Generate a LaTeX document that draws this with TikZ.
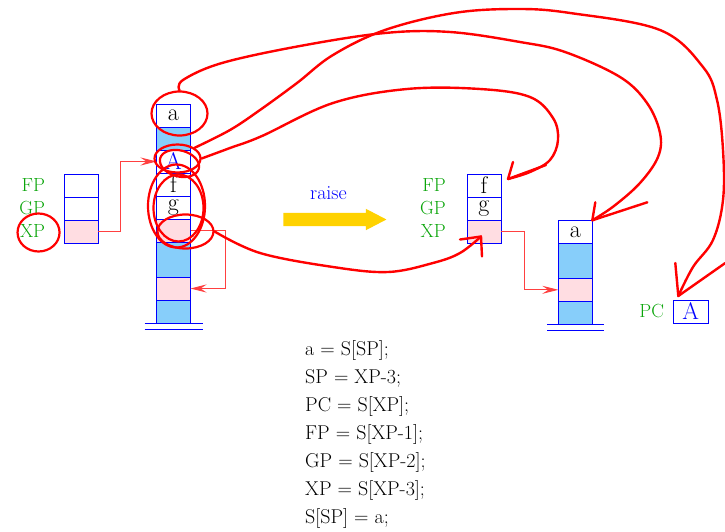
\documentclass[tikz,border=0pt]{standalone}
\usepackage{fontspec}
\usepackage{tikz}
\usetikzlibrary{shapes,arrows.meta,positioning,calc}

\definecolor{stackblue}{RGB}{135,206,250}
\definecolor{cellpink}{RGB}{255,221,226}
\definecolor{labelgreen}{RGB}{10,165,10}
\definecolor{raiseyellow}{RGB}{255,210,0}

\begin{document}
\begin{tikzpicture}[
  x=1pt, y=-1pt,
  cell/.style={rectangle, draw=blue, line width=0.9pt, minimum width=34pt, minimum height=23pt,
    inner sep=0pt, outer sep=0pt, font=\fontsize{24}{24}\selectfont},
  bluecell/.style={cell, fill=stackblue},
  pinkcell/.style={cell, fill=cellpink},
  reg/.style={font=\fontsize{19}{19}\selectfont, text=labelgreen, inner sep=0pt},
  ground/.style={draw=blue, line width=0.9pt},
  link/.style={draw=red!75, line width=0.9pt, -{Stealth[length=16pt,width=8pt,inset=6pt]}},
  ring/.style={draw=red, line width=2.2pt, ellipse, inner sep=0pt},
  scribble/.style={draw=red, line width=2.4pt, line cap=round, line join=round},
  codeline/.style={anchor=base west, font=\fontsize{20}{20}\selectfont, inner sep=0pt}
]
  \useasboundingbox (0,0) rectangle (725,532);

  % Registers before
  \node[cell] (FP0) at (81.3,185.5) {};
  \node[cell, below=0pt of FP0] (GP0) {};
  \node[pinkcell, below=0pt of GP0] (XP0) {};
  \node[reg, left=19pt of FP0] (FP0l) {FP};
  \node[reg, left=19pt of GP0] (GP0l) {GP};
  \node[reg, left=19pt of XP0] (XP0l) {XP};

  % Stack before
  \node[cell] (s0) at (173.5,115.5) {a};
  \node[bluecell, below=0pt of s0] (s1) {};
  \node[cell, text=blue, below=0pt of s1] (s2) {A};
  \node[cell, below=0pt of s2] (s3) {f};
  \node[cell, below=0pt of s3] (s4) {g};
  \node[pinkcell, below=0pt of s4] (s5) {};
  \node[bluecell, minimum height=35pt, below=0pt of s5] (s6) {};
  \node[pinkcell, below=0pt of s6] (s7) {};
  \node[bluecell, below=0pt of s7] (s8) {};
  \draw[ground] ([xshift=-12pt]s8.south west) -- ([xshift=12pt]s8.south east);
  \draw[ground] ([xshift=-12pt,yshift=-6pt]s8.south west) -- ([xshift=12pt,yshift=-6pt]s8.south east);

  % Links before
  \draw[link] (XP0.east) -- ++(22,0) |- (s2.west);
  \draw[link] (s5.east) -- ++(34.5,0) |- (s7.east);

  % raise
  \node[single arrow, fill=raiseyellow, minimum height=103pt, inner sep=6.5pt,
    single arrow head extend=4pt, single arrow tip angle=55] (raise) at (328.5,219.5) {};
  \node[font=\fontsize{20}{20}\selectfont, text=blue, above=9pt of raise] (raisel) {raise};

  % Registers after
  \node[cell] (FP1) at (484,185.5) {f};
  \node[cell, below=0pt of FP1] (GP1) {g};
  \node[pinkcell, below=0pt of GP1] (XP1) {};
  \node[reg, left=21pt of FP1] (FP1l) {FP};
  \node[reg, left=21pt of GP1] (GP1l) {GP};
  \node[reg, left=21pt of XP1] (XP1l) {XP};

  % Stack after
  \node[cell] (t0) at (575.3,231.8) {a};
  \node[bluecell, minimum height=35pt, below=0pt of t0] (t1) {};
  \node[pinkcell, below=0pt of t1] (t2) {};
  \node[bluecell, below=0pt of t2] (t3) {};
  \draw[ground] ([xshift=-11pt]t3.south west) -- ([xshift=12pt]t3.south east);
  \draw[ground] ([xshift=-11pt,yshift=-6pt]t3.south west) -- ([xshift=12pt,yshift=-6pt]t3.south east);
  \draw[link] (XP1.east) -- ++(23,0) |- (t2.west);

  \node[cell, minimum width=35pt, text=blue] (PC1) at (690.8,311.5) {A};
  \node[reg, left=9pt of PC1] (PC1l) {PC};

  % Code
  \foreach \stmt [count=\i] in {{a = S[SP];}, {SP = XP-3;}, {PC = S[XP];}, {FP = S[XP-1];},
      {GP = S[XP-2];}, {XP = S[XP-3];}, {S[SP] = a;}}
    \node[codeline] (code\i) at (305,{327+28*\i}) {\stmt};

  % Hand-drawn marks
  \node[ring, minimum width=56pt, minimum height=44pt] (ring0a) at ([xshift=6pt,yshift=2pt]s0) {};
  \node[ring, minimum width=46pt, minimum height=28pt] (ring0A) at ([xshift=4pt,yshift=3pt]s2) {};
  \node[ring, minimum width=40pt, minimum height=26pt, rotate=-15] (ring0A2) at ([xshift=6pt,yshift=-2pt]s2) {};
  \node[ring, minimum width=57pt, minimum height=83pt] (ring0fg) at ([xshift=3pt,yshift=-10pt]s3.south) {};
  \node[ring, minimum width=50pt, minimum height=67pt] (ring0fg2) at ([xshift=5pt,yshift=-12pt]s3.south) {};
  \node[ring, minimum width=56pt, minimum height=34pt] (ring0p) at ([xshift=12pt,yshift=-1pt]s5) {};
  \node[ring, minimum width=42pt, minimum height=38pt] (ringxp) at ([xshift=6pt,yshift=-1pt]XP0l) {};

  \coordinate (tipPC) at ([xshift=5pt,yshift=4pt]PC1.north west);
  \coordinate (tipFP) at ([xshift=7pt,yshift=-5pt]FP1.north east);
  \coordinate (tipXP) at ([xshift=-3pt,yshift=-5pt]XP1.center);

  \draw[scribble] plot[smooth, tension=0.6] coordinates {(ring0a.north) (183,80) (222,63) (300,46)
    (385,33) (450,32) (520,42) (565,52) (620,77) (647,103) (660,133) (658,157) (640,183) (614,206) (t0.north east)};
  \draw[scribble] (t0.north east) ++(3,-18) -- (t0.north east) -- ++(55,-18);

  \draw[scribble] plot[smooth, tension=0.6] coordinates {(ring0A.north east) (230,130) (260,110) (297,83)
    (333,55) (385,30) (454,13) (517,9) (570,13) (660,30) (703,67) (717,100) (723,150) (723,200)
    (713,240) (693,267) (tipPC)};
  \draw[scribble] (tipPC) ++(-3,-33) -- (tipPC) -- ++(47,-33);

  \draw[scribble] plot[smooth, tension=0.6] coordinates {(ring0A.east) (230,148) (262,136) (333,103)
    (407,89) (480,89) (530,97) (553,118) (558,140) (550,160) (530,172) (tipFP)};
  \draw[scribble] (tipFP) ++(5,-17) -- (tipFP) -- ++(38,-14);

  \draw[scribble] plot[smooth, tension=0.6] coordinates {(ring0p.east) (260,253) (333,267) (388,272)
    (433,263) (460,253) (tipXP)};
  \draw[scribble] (tipXP) ++(1,20) -- (tipXP) -- ++(-21,3);

\end{tikzpicture}
\end{document}
